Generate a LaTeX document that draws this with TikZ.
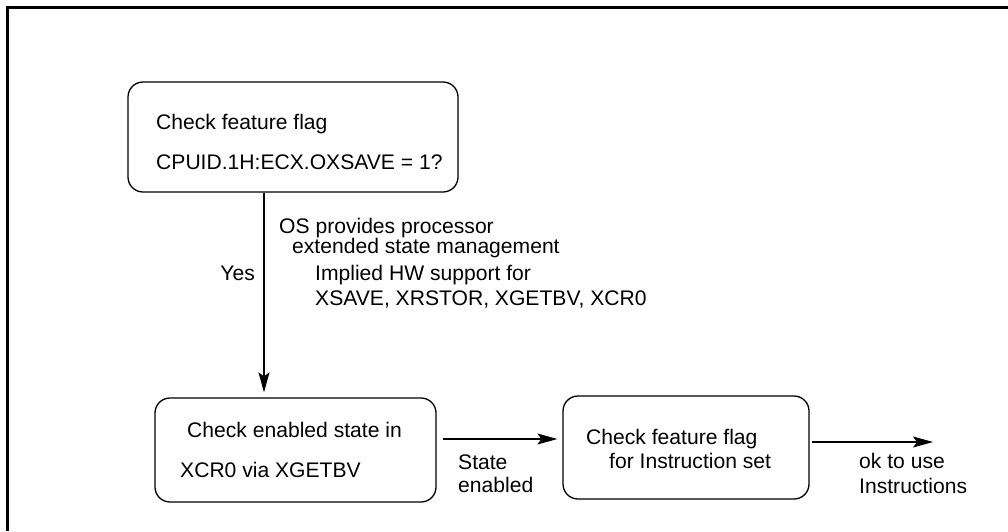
\documentclass[tikz,border=0pt]{standalone}
\usepackage{fontspec}
\setmainfont{Liberation Sans}
\usetikzlibrary{arrows.meta}
\begin{document}
\begin{tikzpicture}[x=1pt,y=-1pt,
  box/.style={draw,line width=1.3pt,rounded corners=15pt,inner sep=0pt},
  lbl/.style={anchor=base west,inner sep=0pt,font=\fontsize{21.1}{24}\selectfont},
  lblr/.style={anchor=base east,inner sep=0pt,font=\fontsize{21.1}{24}\selectfont},
  conn/.style={line width=1.1pt,-{Stealth[length=20pt,width=11pt,inset=4pt]}}]
\useasboundingbox (0,0) rectangle (1008,531);
\draw[line width=2.5pt] (7.5,531) -- (7.5,7.5) -- (1008,7.5);
% boxes
\node[box,minimum width=330pt,minimum height=110pt] (box1) at (293,137) {};
\node[box,minimum width=281pt,minimum height=104pt] (box2) at (295.5,450) {};
\node[box,minimum width=246pt,minimum height=103pt] (box3) at (686,447.5) {};
% box texts
\node[lbl] (t1a) at (156,129.5) {Check feature flag};
\node[lbl] (t1b) at (156,169) {CPUID.1H:ECX.OXSAVE = 1?};
\node[lbl] (t2a) at (187,437) {Check enabled state in};
\node[lbl] (t2b) at (180,477) {XCR0 via XGETBV};
\node[lbl] (t3a) at (586,444) {Check feature flag};
\node[lbl] (t3b) at (609,468) {for Instruction set};
% labels
\node[lbl] (l1) at (279,233) {OS provides processor};
\node[lbl] (l2) at (292,253) {extended state management};
\node[lbl] (l3) at (315,280) {Implied HW support for};
\node[lbl] (l4) at (315,305) {XSAVE, XRSTOR, XGETBV, XCR0};
\node[lblr] (yes) at (255,280) {Yes};
\node[lbl] (s1) at (458,469) {State};
\node[lbl] (s2) at (458,492) {enabled};
\node[lbl] (o1) at (859,468) {ok to use};
\node[lbl] (o2) at (859,493) {Instructions};
% connectors
\coordinate (c1) at (264,0);
\coordinate (c2) at (0,439);
\coordinate (c3) at (0,442);
\coordinate (fin) at (933,442);
\draw[conn,shorten >=5pt] (c1 |- box1.south) -- (c1 |- box2.north);
\draw[conn,shorten <=6pt,shorten >=5pt] (box2.east |- c2) -- (box3.west |- c2);
\draw[conn,shorten <=2pt] (box3.east |- c3) -- (fin);
\end{tikzpicture}
\end{document}
